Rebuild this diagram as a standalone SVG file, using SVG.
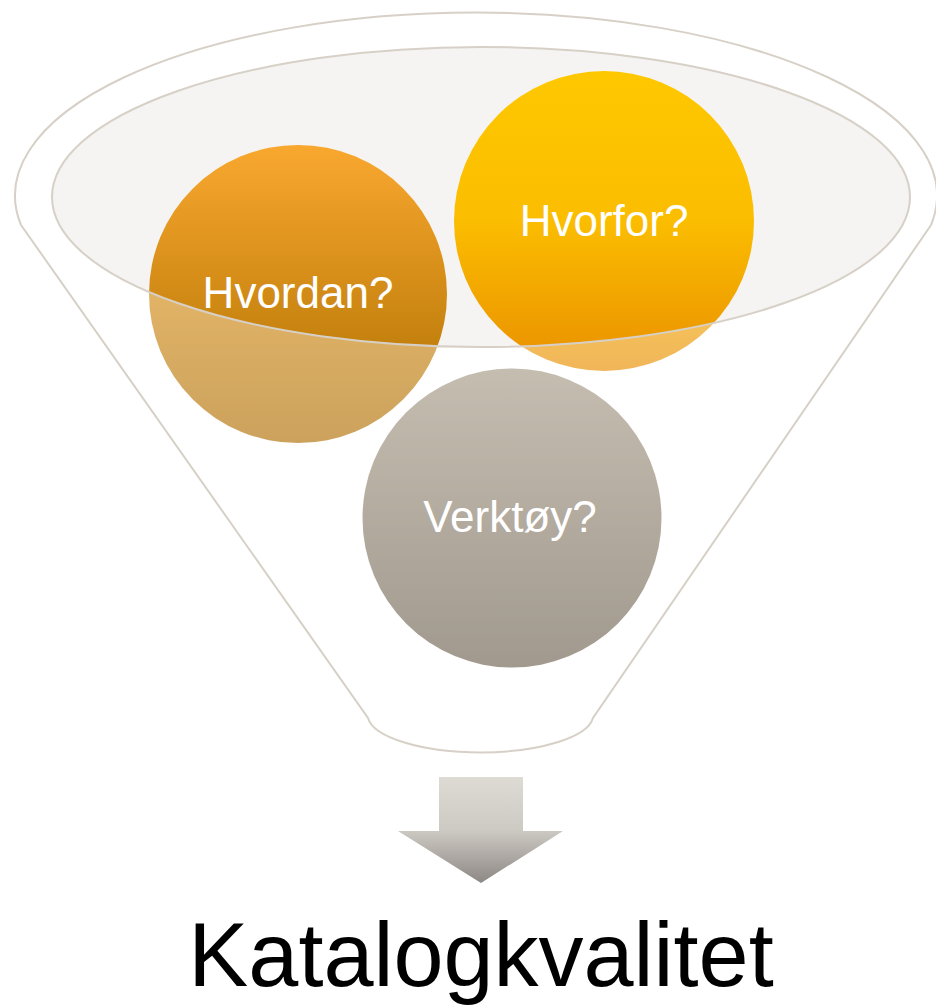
<svg xmlns="http://www.w3.org/2000/svg" width="936" height="1008" viewBox="0 0 936 1008">
  <style>
    .lbl { font-family: "Liberation Sans", Arial, sans-serif; font-size: 44px; fill: #ffffff; text-anchor: middle; }
    .title { font-family: "Liberation Sans", Arial, sans-serif; font-size: 90px; fill: #000000; text-anchor: middle; }
    .outline { fill: none; stroke: #d7d0c7; stroke-width: 2; }
  </style>
  <defs>
    <linearGradient id="gHvordan" x1="0" y1="0" x2="0" y2="1">
      <stop offset="0" stop-color="#f9a82f"/>
      <stop offset="0.65" stop-color="#c6820f"/>
      <stop offset="1" stop-color="#b07006"/>
    </linearGradient>
    <linearGradient id="gHvorfor" x1="0" y1="0" x2="0" y2="1">
      <stop offset="0" stop-color="#fec800"/>
      <stop offset="0.5" stop-color="#fbbd00"/>
      <stop offset="1" stop-color="#e98f00"/>
    </linearGradient>
    <linearGradient id="gVerktoy" x1="0" y1="0" x2="0" y2="1">
      <stop offset="0" stop-color="#a69a86"/>
      <stop offset="1" stop-color="#6f6351"/>
    </linearGradient>
    <linearGradient id="gArrow" x1="0" y1="0" x2="0" y2="1">
      <stop offset="0" stop-color="#dedad4"/>
      <stop offset="0.5" stop-color="#cdc9c3"/>
      <stop offset="1" stop-color="#8d8884"/>
    </linearGradient>
  </defs>

  <g id="funnel">
    <path d="M 21 225 A 461 183 0 1 1 931 225 L 593 718 A 113 38 0 0 1 368 718 Z" fill="#ffffff"/>
    <ellipse cx="481" cy="197" rx="429" ry="150" fill="#f5f4f2"/>
  </g>

  <g id="node-hvordan">
    <circle cx="298" cy="294" r="149" fill="url(#gHvordan)"/>
  </g>
  <g id="node-hvorfor">
    <circle cx="604" cy="221" r="150" fill="url(#gHvorfor)"/>
  </g>
  <g id="node-verktoy">
    <circle cx="512" cy="518" r="149.5" fill="url(#gVerktoy)"/>
  </g>

  <g id="funnel-overlay">
    <path d="M 21 225 A 461 183 0 1 1 931 225 L 593 718 A 113 38 0 0 1 368 718 Z M 52 197 A 429 150 0 1 0 910 197 A 429 150 0 1 0 52 197 Z" fill="#ffffff" fill-opacity="0.35" fill-rule="evenodd"/>
    <path class="outline" d="M 21 225 A 461 183 0 1 1 931 225 L 593 718 A 113 38 0 0 1 368 718 Z"/>
    <ellipse class="outline" cx="481" cy="197" rx="429" ry="150"/>
  </g>

  <g id="labels">
    <text class="lbl" x="298" y="308">Hvordan?</text>
    <text class="lbl" x="604" y="236">Hvorfor?</text>
    <text class="lbl" x="510" y="532">Verktøy?</text>
  </g>

  <g id="connectors">
    <path id="arrow" d="M 439 777 L 523 777 L 523 831 L 563 831 L 481 883 L 398 831 L 439 831 Z" fill="url(#gArrow)"/>
  </g>

  <g id="node-katalog">
    <text class="title" x="481" y="986">Katalogkvalitet</text>
  </g>
</svg>
